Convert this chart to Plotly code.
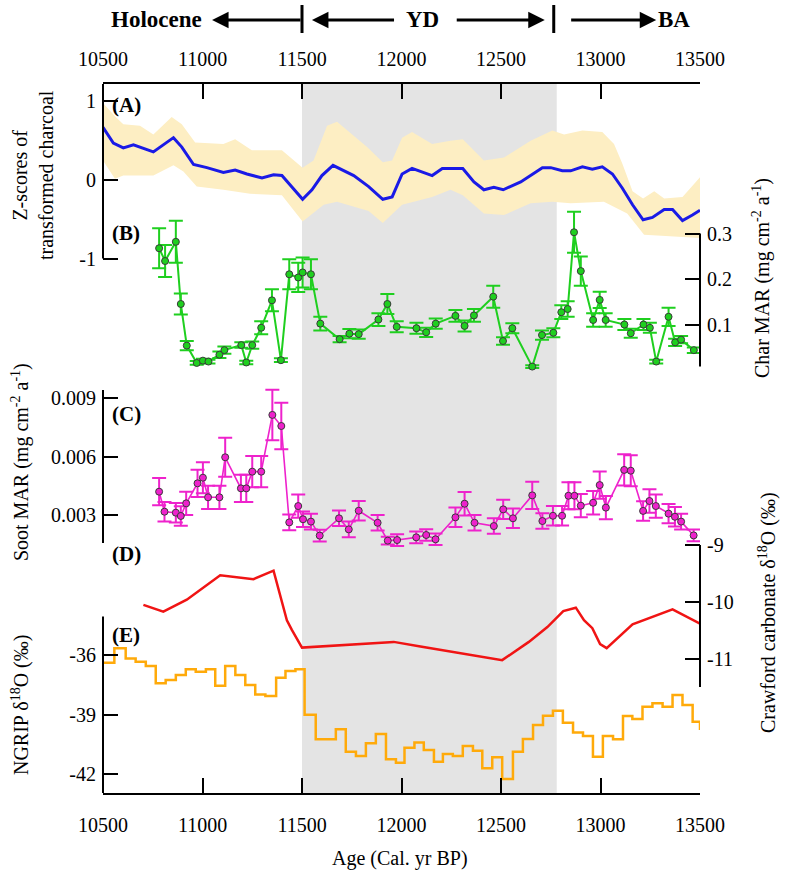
import plotly.graph_objects as go

# ---------------- data ----------------
YD_START = 11500
YD_END = 12780
x_ticks = [10500, 11000, 11500, 12000, 12500, 13000, 13500]

# (A) Z-scores of transformed charcoal (mean curve and confidence band)
years_a = [10500, 10552, 10602, 10653, 10753, 10854, 10896, 10955, 11022, 11105,
           11164, 11223, 11299, 11357, 11399, 11503, 11550, 11600, 11656, 11760,
           11835, 11906, 11953, 12003, 12053, 12154, 12205, 12308, 12364, 12414,
           12464, 12511, 12599, 12657, 12708, 12750, 12808, 12850, 12909, 12959,
           13009, 13060, 13110, 13161, 13214, 13261, 13320, 13362, 13412, 13462, 13500]
zscore_a = [0.66, 0.46, 0.40, 0.44, 0.35, 0.53, 0.41, 0.19, 0.15, 0.09,
            0.12, 0.07, 0.02, 0.06, 0.05, -0.25, -0.13, 0.05, 0.18, 0.05,
            -0.09, -0.25, -0.22, 0.07, 0.14, 0.05, 0.14, 0.14, -0.03, -0.13,
            -0.10, -0.13, -0.03, 0.07, 0.15, 0.15, 0.11, 0.11, 0.16, 0.13,
            0.16, 0.07, -0.11, -0.32, -0.51, -0.48, -0.38, -0.38, -0.52, -0.45, -0.39]
upper_x = [10500, 10560, 10602, 10686, 10753, 10845, 10896, 10963, 11105, 11164,
           11248, 11399, 11503, 11558, 11626, 11676, 11827, 11906, 11953, 12003,
           12053, 12154, 12246, 12308, 12414, 12515, 12649, 12758, 12817, 12909,
           13009, 13068, 13110, 13161, 13214, 13270, 13320, 13412, 13500]
upper_y = [0.97, 0.80, 0.70, 0.68, 0.57, 0.79, 0.70, 0.47, 0.45, 0.51,
           0.37, 0.37, 0.15, 0.24, 0.68, 0.73, 0.41, 0.22, 0.24, 0.53,
           0.60, 0.45, 0.49, 0.51, 0.24, 0.28, 0.49, 0.62, 0.57, 0.62,
           0.60, 0.45, 0.20, -0.15, -0.24, -0.15, -0.24, -0.22, 0.03]
lower_x = [10500, 10560, 10602, 10753, 10854, 10904, 10971, 11105, 11239, 11399,
           11503, 11609, 11676, 11835, 11906, 12003, 12154, 12246, 12308, 12414,
           12515, 12649, 12758, 12850, 13017, 13134, 13219, 13500]
lower_y = [0.24, 0.01, 0.05, 0.05, 0.18, 0.10, -0.09, -0.13, -0.18, -0.20,
           -0.53, -0.32, -0.28, -0.40, -0.55, -0.32, -0.22, -0.13, -0.20, -0.43,
           -0.45, -0.30, -0.28, -0.30, -0.28, -0.43, -0.70, -0.74]

# (B) Char MAR
years_b = [10782, 10812, 10866, 10891, 10921, 10971, 11002, 11030, 11085, 11110,
           11195, 11220, 11250, 11295, 11349, 11394, 11436, 11481, 11503, 11545,
           11592, 11689, 11738, 11785, 11884, 11929, 11976, 12075, 12124, 12172,
           12271, 12317, 12364, 12461, 12510, 12557, 12657, 12706, 12763, 12803,
           12835, 12867, 12901, 12963, 12996, 13026, 13120, 13152, 13216, 13248,
           13280, 13342, 13375, 13405, 13469]
char_b = [0.268, 0.240, 0.282, 0.146, 0.055, 0.017, 0.022, 0.020, 0.035, 0.045,
          0.056, 0.018, 0.056, 0.094, 0.154, 0.023, 0.211, 0.204, 0.215, 0.211,
          0.103, 0.069, 0.081, 0.080, 0.112, 0.146, 0.096, 0.093, 0.084, 0.103,
          0.120, 0.098, 0.121, 0.162, 0.065, 0.093, 0.009, 0.078, 0.083, 0.128,
          0.135, 0.303, 0.218, 0.111, 0.155, 0.111, 0.101, 0.082, 0.101, 0.094,
          0.020, 0.118, 0.062, 0.068, 0.045]
char_err = [0.044, 0.035, 0.046, 0.023, 0.010, 0.004, 0.004, 0.004, 0.007, 0.008,
            0.006, 0.004, 0.008, 0.014, 0.024, 0.004, 0.033, 0.032, 0.033, 0.033,
            0.015, 0.007, 0.010, 0.010, 0.014, 0.022, 0.012, 0.012, 0.010, 0.011,
            0.013, 0.012, 0.014, 0.024, 0.008, 0.011, 0.003, 0.010, 0.010, 0.015,
            0.017, 0.045, 0.032, 0.015, 0.018, 0.015, 0.012, 0.010, 0.012, 0.011,
            0.004, 0.020, 0.008, 0.008, 0.006]

# (C) Soot MAR
years_c = [10782, 10809, 10866, 10891, 10918, 10975, 11002, 11028, 11085, 11114,
           11193, 11220, 11250, 11295, 11351, 11396, 11436, 11481, 11505, 11545,
           11589, 11686, 11735, 11785, 11880, 11931, 11978, 12074, 12124, 12171,
           12271, 12317, 12367, 12464, 12511, 12560, 12657, 12708, 12761, 12807,
           12839, 12869, 12901, 12963, 12996, 13027, 13119, 13152, 13214, 13246,
           13278, 13342, 13374, 13405, 13468]
soot_c = [0.00420, 0.00317, 0.00312, 0.00295, 0.00360, 0.00463, 0.00492, 0.00391, 0.00391, 0.00597,
          0.00437, 0.00437, 0.00523, 0.00523, 0.00815, 0.00758, 0.00262, 0.00346, 0.00278, 0.00266,
          0.00194, 0.00283, 0.00226, 0.00322, 0.00260, 0.00168, 0.00171, 0.00185, 0.00197, 0.00175,
          0.00288, 0.00358, 0.00260, 0.00243, 0.00329, 0.00283, 0.00401, 0.00269, 0.00296, 0.00296,
          0.00399, 0.00399, 0.00348, 0.00363, 0.00454, 0.00338, 0.00532, 0.00528, 0.00321, 0.00372,
          0.00346, 0.00307, 0.00291, 0.00266, 0.00195]
soot_err = [0.0007, 0.0005, 0.0005, 0.0005, 0.0006, 0.0007, 0.0008, 0.0006, 0.0006, 0.0010,
            0.0007, 0.0007, 0.0008, 0.0008, 0.0013, 0.0012, 0.0004, 0.0006, 0.0004, 0.0004,
            0.0003, 0.0004, 0.0004, 0.0005, 0.0004, 0.0002, 0.0003, 0.0003, 0.0003, 0.0003,
            0.0005, 0.0006, 0.0004, 0.0004, 0.0005, 0.0005, 0.0007, 0.0004, 0.0005, 0.0005,
            0.0007, 0.0007, 0.0006, 0.0006, 0.0007, 0.0006, 0.0008, 0.0008, 0.0005, 0.0006,
            0.0006, 0.0005, 0.0005, 0.0004, 0.0003]

# (D) Crawford carbonate d18O
years_d = [10703, 10803, 10921, 11089, 11256, 11357, 11424, 11449, 11500, 11961,
           12095, 12506, 12640, 12733, 12813, 12876, 12917, 12959, 12998, 13031,
           13161, 13362, 13500]
d18o_d = [-10.05, -10.17, -9.96, -9.53, -9.60, -9.45, -10.32, -10.49, -10.80, -10.70,
          -10.78, -11.02, -10.70, -10.44, -10.16, -10.10, -10.32, -10.46, -10.74, -10.81,
          -10.39, -10.13, -10.38]

# (E) NGRIP d18O (step series)
years_e = [10500, 10557, 10614, 10664, 10715, 10765, 10815, 10866, 10916, 10966,
           11017, 11064, 11114, 11165, 11215, 11265, 11316, 11370, 11417, 11467,
           11513, 11569, 11670, 11720, 11771, 11821, 11871, 11922, 11972, 12015,
           12065, 12112, 12163, 12208, 12258, 12308, 12359, 12406, 12456, 12506,
           12560, 12610, 12661, 12711, 12761, 12811, 12862, 12912, 12962, 13012,
           13063, 13113, 13160, 13211, 13261, 13312, 13362, 13412, 13463, 13500]
d18o_e = [-36.39, -35.66, -36.17, -36.34, -36.55, -37.42, -37.26, -37.00, -36.72, -36.84,
          -36.72, -37.54, -36.55, -37.00, -37.51, -37.98, -38.06, -37.14, -36.80, -36.72,
          -39.00, -40.24, -39.73, -40.86, -41.08, -40.44, -39.97, -41.24, -41.41, -40.66,
          -40.40, -40.77, -41.36, -40.97, -41.08, -40.57, -40.81, -41.69, -41.14, -42.23,
          -40.86, -40.22, -39.52, -39.05, -38.80, -39.40, -39.89, -40.07, -41.11, -40.07,
          -40.24, -39.07, -39.22, -38.60, -38.43, -38.60, -38.01, -38.51, -39.35, -39.77]

# ---------------- styling ----------------
FONT = "Liberation Serif, Times New Roman, serif"
GREEN = "#1FCF1F"
MAGENTA = "#EE22CC"
BLUE = "#1A1AE6"
RED = "#F01414"
ORANGE = "#FFAA0A"
BAND = "#FDEEC3"
SHADE = "#E4E4E4"

# axis ranges (all y-axes share the whole plot height, stacked by range)
RA = [-7.766, 1.209]
RB = [-0.9241, 0.6274]
RC = [-0.011306, 0.025179]
RD = [-13.351, -0.9123]
RE = [-42.935, -7.307]

fig = go.Figure()

# A band + line
fig.add_trace(go.Scatter(x=upper_x + lower_x[::-1], y=upper_y + lower_y[::-1],
                         fill="toself", fillcolor=BAND, line=dict(width=0),
                         mode="lines", hoverinfo="skip", showlegend=False,
                         xaxis="x", yaxis="y"))
fig.add_trace(go.Scatter(x=years_a, y=zscore_a, mode="lines",
                         line=dict(color=BLUE, width=3), showlegend=False,
                         xaxis="x", yaxis="y"))
# top axis helper
fig.add_trace(go.Scatter(x=[10500], y=[0], mode="markers", marker=dict(opacity=0),
                         hoverinfo="skip", showlegend=False, xaxis="x2", yaxis="y"))
# B
fig.add_trace(go.Scatter(x=years_b, y=char_b, mode="lines+markers",
                         line=dict(color=GREEN, width=2),
                         marker=dict(color=GREEN, size=7, line=dict(color="#3a3a3a", width=1)),
                         error_y=dict(type="data", array=char_err, color=GREEN,
                                      thickness=2, width=7),
                         showlegend=False, xaxis="x", yaxis="y2"))
# C
fig.add_trace(go.Scatter(x=years_c, y=soot_c, mode="lines+markers",
                         line=dict(color=MAGENTA, width=1.6),
                         marker=dict(color=MAGENTA, size=7, line=dict(color="#3a3a3a", width=1)),
                         error_y=dict(type="data", array=soot_err, color=MAGENTA,
                                      thickness=2, width=7),
                         showlegend=False, xaxis="x", yaxis="y3"))
# D
fig.add_trace(go.Scatter(x=years_d, y=d18o_d, mode="lines",
                         line=dict(color=RED, width=2.5),
                         showlegend=False, xaxis="x", yaxis="y4"))
# E
fig.add_trace(go.Scatter(x=years_e, y=d18o_e, mode="lines", line_shape="hv",
                         line=dict(color=ORANGE, width=2.5),
                         showlegend=False, xaxis="x", yaxis="y5"))

tickfont = dict(family=FONT, size=20, color="black")
common_y = dict(showgrid=False, zeroline=False, showline=False, ticks="inside",
                ticklen=15, tickwidth=2, tickcolor="black", tickfont=tickfont,
                fixedrange=True, anchor="x", ticklabelstandoff=6)
common_x = dict(range=[10500, 13500], showgrid=False, zeroline=False, showline=True,
                linecolor="black", linewidth=2, ticks="inside", ticklen=15, tickwidth=2,
                tickcolor="black", tickvals=x_ticks, ticktext=[str(v) for v in x_ticks],
                tickfont=tickfont, fixedrange=True)

fig.update_layout(
    width=787, height=873,
    margin=dict(l=103, r=87, t=84, b=80),
    paper_bgcolor="white", plot_bgcolor="white",
    font=dict(family=FONT, size=20, color="black"),
    xaxis=dict(**common_x, anchor="y", ticklabelstandoff=13),
    xaxis2=dict(**common_x, overlaying="x", side="top", anchor="y", ticklabelstandoff=8),
    yaxis=dict(**common_y, range=RA, side="left", tickvals=[-1, 0, 1],
               ticktext=["-1", "0", "1"]),
    yaxis2=dict(**common_y, range=RB, side="right", overlaying="y",
                tickvals=[0.1, 0.2, 0.3], ticktext=["0.1", "0.2", "0.3"]),
    yaxis3=dict(**common_y, range=RC, side="left", overlaying="y",
                tickvals=[0.003, 0.006, 0.009], ticktext=["0.003", "0.006", "0.009"]),
    yaxis4=dict(**common_y, range=RD, side="right", overlaying="y",
                tickvals=[-9, -10, -11], ticktext=["-9", "-10", "-11"]),
    yaxis5=dict(**common_y, range=RE, side="left", overlaying="y",
                tickvals=[-36, -39, -42], ticktext=["-36", "-39", "-42"]),
)

# shapes: YD shading and panel axis lines
shapes = [
    dict(type="rect", xref="x", yref="paper", x0=YD_START, x1=YD_END, y0=0, y1=1,
         fillcolor=SHADE, line=dict(width=0), layer="below"),
    dict(type="line", xref="paper", x0=0, x1=0, yref="y", y0=-1, y1=RA[1],
         line=dict(color="black", width=2)),
    dict(type="line", xref="paper", x0=1, x1=1, yref="y2", y0=0.009, y1=0.3,
         line=dict(color="black", width=2)),
    dict(type="line", xref="paper", x0=0, x1=0, yref="y3", y0=0.00156, y1=0.00943,
         line=dict(color="black", width=2)),
    dict(type="line", xref="paper", x0=1, x1=1, yref="y4", y0=-11.49, y1=-9,
         line=dict(color="black", width=2)),
    dict(type="line", xref="paper", x0=0, x1=0, yref="y5", y0=RE[0], y1=-34.07,
         line=dict(color="black", width=2)),
    # period boundaries in header
    dict(type="line", xref="x", yref="paper", x0=YD_START, x1=YD_START, y0=1.0719, y1=1.1114,
         line=dict(color="black", width=3)),
    dict(type="line", xref="x", yref="paper", x0=YD_END - 15, x1=YD_END - 15, y0=1.0719, y1=1.1114,
         line=dict(color="black", width=3)),
]
fig.update_layout(shapes=shapes)

ann = []
HY = 1.0903
def arrow(head, tail):
    ann.append(dict(x=head, y=HY, xref="x", yref="paper", ax=tail, ay=0, axref="x",
                    ayref="pixel", text="", showarrow=True, arrowhead=2, arrowsize=1.1,
                    arrowwidth=3, arrowcolor="black", standoff=0, startstandoff=0))

arrow(11048, 11500)
arrow(11550, 11970)
arrow(12720, 12270)
arrow(13280, 12845)
hdr = dict(family=FONT, size=23, color="black")
ann.append(dict(x=10771, y=HY, xref="x", yref="paper", text="<b>Holocene</b>",
                showarrow=False, font=hdr, xanchor="center", yanchor="middle"))
ann.append(dict(x=12103, y=HY, xref="x", yref="paper", text="<b>YD</b>",
                showarrow=False, font=hdr, xanchor="center", yanchor="middle"))
ann.append(dict(x=13370, y=HY, xref="x", yref="paper", text="<b>BA</b>",
                showarrow=False, font=hdr, xanchor="center", yanchor="middle"))

lab = dict(family=FONT, size=21, color="black")
for txt, yy in [("(A)", 0.9704), ("(B)", 0.7898), ("(C)", 0.5346), ("(D)", 0.3371), ("(E)", 0.2229)]:
    ann.append(dict(x=0.0117, y=yy, xref="paper", yref="paper", text="<b>%s</b>" % txt,
                    showarrow=False, font=lab, xanchor="left", yanchor="middle"))

tf = dict(family=FONT, size=20, color="black")
titles = [
    ("Z-scores of<br>transformed charcoal", -0.1173, 0.8716),
    ("Char MAR (mg cm<sup>-2</sup> a<sup>-1</sup>)", 1.1039, 0.7264),
    ("Soot MAR (mg cm<sup>-2</sup> a<sup>-1</sup>)", -0.139, 0.4668),
    ("Crawford carbonate δ<sup>18</sup>O (‰)", 1.1139, 0.2553),
    ("NGRIP δ<sup>18</sup>O (‰)", -0.139, 0.1241),
]
for txt, xx, yy in titles:
    ann.append(dict(x=xx, y=yy, xref="paper", yref="paper", text=txt, textangle=-90,
                    showarrow=False, font=tf, xanchor="center", yanchor="middle"))
ann.append(dict(x=0.4975, y=-0.0917, xref="paper", yref="paper", text="Age (Cal. yr BP)",
                showarrow=False, font=tf, xanchor="center", yanchor="middle"))
fig.update_layout(annotations=ann)

fig.write_html("out.html", config={"displayModeBar": False},
               post_script="document.body.style.margin='0';document.body.style.overflow='hidden';")
